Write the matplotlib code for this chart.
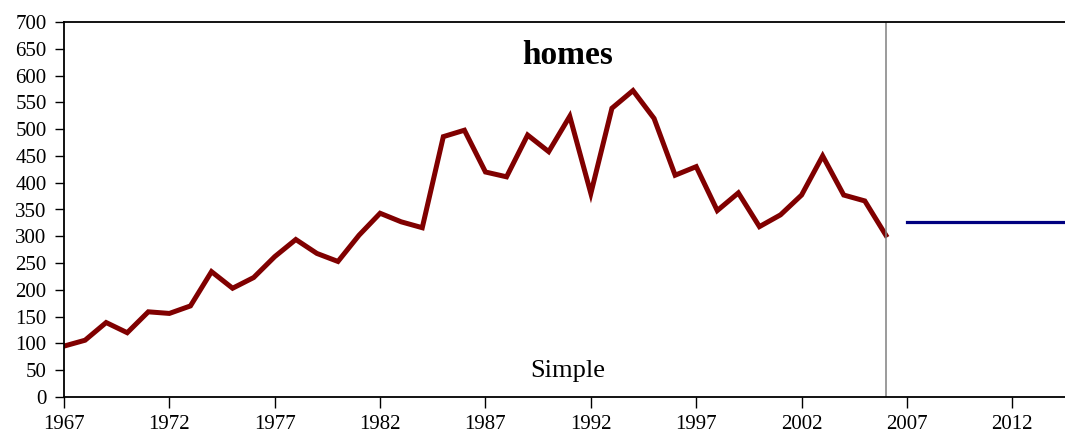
import matplotlib.pyplot as plt

# Data
years = list(range(1967, 2007))
homes = [95, 106, 139, 120, 159, 156, 170, 234, 203, 223,
         262, 294, 268, 253, 302, 343, 327, 316, 486, 498,
         420, 411, 489, 458, 524, 380, 539, 572, 520, 414,
         430, 348, 381, 318, 340, 377, 450, 377, 366, 302]
forecast_years = [2007, 2016]
forecast = [326, 326]
split_year = 2006
x_ticks = list(range(1967, 2015, 5))
y_ticks = list(range(0, 701, 50))

plt.rcParams['font.family'] = ['Liberation Serif', 'DejaVu Serif']

fig = plt.figure(figsize=(10.65, 4.36), dpi=100)
ax = fig.add_axes([64 / 1065, 1 - 397 / 436, 1 - 64 / 1065, (397 - 22) / 436])

ax.plot(years, homes, color='#800000', linewidth=3.6, solid_joinstyle='miter')
ax.plot(forecast_years, forecast, color='#000080', linewidth=2.3)
ax.axvline(split_year, color='#808080', linewidth=1.1)

ax.set_xlim(1967, 2014.5)
ax.set_ylim(0, 700)
ax.set_xticks(x_ticks)
ax.set_yticks(y_ticks)
ax.tick_params(axis='x', length=8, width=1, labelsize=15, pad=5)
ax.tick_params(axis='y', length=6.5, width=1, labelsize=15, pad=6)

for side in ['left', 'bottom', 'top']:
    ax.spines[side].set_linewidth(1.3)
ax.spines['right'].set_visible(False)

ax.text(0.503, 0.91, 'homes', transform=ax.transAxes, ha='center', va='center',
        fontsize=24, fontweight='bold')
ax.text(0.503, 0.07, 'Simple', transform=ax.transAxes, ha='center', va='center',
        fontsize=19)

fig.savefig('out.png', dpi=100)
